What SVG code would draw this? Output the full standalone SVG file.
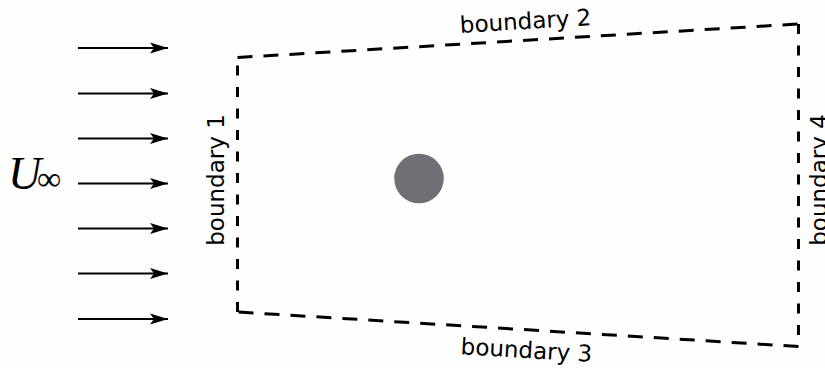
<svg xmlns="http://www.w3.org/2000/svg" width="825" height="368" viewBox="0 0 825 368">
<style>
.bnd{stroke:#000;stroke-width:3;fill:none}
.h{stroke-dasharray:15 11}
.v{stroke-dasharray:10 11.5}
.lbl{font-family:"DejaVu Sans",sans-serif;font-size:23px;fill:#000;text-anchor:middle}
.arr{stroke:#000;stroke-width:2;fill:none}
</style>
<defs>
<marker id="ah" markerWidth="20" markerHeight="12" refX="18" refY="6" orient="auto" markerUnits="userSpaceOnUse">
<path d="M18,6 L0,0.6 L4,6 L0,11.4 z" fill="#000"/>
</marker>
</defs>
<rect width="825" height="368" fill="#fefefe"/>
<g id="domain">
<line class="bnd h" x1="237.5" y1="57.5" x2="798.5" y2="24"/>
<line class="bnd v" x1="798.5" y1="24" x2="798.5" y2="346.5"/>
<line class="bnd h" x1="798.5" y1="346.5" x2="237.5" y2="312"/>
<line class="bnd v" x1="237.5" y1="312" x2="237.5" y2="57.5"/>
</g>
<g id="cylinder"><circle cx="419" cy="178.5" r="24.8" fill="#706f75"/></g>
<g id="labels">
<text class="lbl" transform="translate(224,180) rotate(-90)">boundary 1</text>
<text class="lbl" transform="translate(526,29) rotate(-3.47)">boundary 2</text>
<text class="lbl" transform="translate(526,358) rotate(3.37)">boundary 3</text>
<text class="lbl" transform="translate(827,180) rotate(-90)">boundary 4</text>
</g>
<g id="uinf">
<text x="8" y="189" font-family="'Liberation Serif',serif" font-style="italic" font-size="46">U</text>
<text x="37" y="190" font-family="'Liberation Serif',serif" font-size="34">∞</text>
</g>
<g id="connectors">
<line class="arr" x1="78" y1="48" x2="168" y2="48" marker-end="url(#ah)"/>
<line class="arr" x1="78" y1="93.5" x2="168" y2="93.5" marker-end="url(#ah)"/>
<line class="arr" x1="78" y1="138.5" x2="168" y2="138.5" marker-end="url(#ah)"/>
<line class="arr" x1="78" y1="183.5" x2="168" y2="183.5" marker-end="url(#ah)"/>
<line class="arr" x1="78" y1="228.5" x2="168" y2="228.5" marker-end="url(#ah)"/>
<line class="arr" x1="78" y1="273.5" x2="168" y2="273.5" marker-end="url(#ah)"/>
<line class="arr" x1="78" y1="319" x2="168" y2="319" marker-end="url(#ah)"/>
</g>
</svg>
